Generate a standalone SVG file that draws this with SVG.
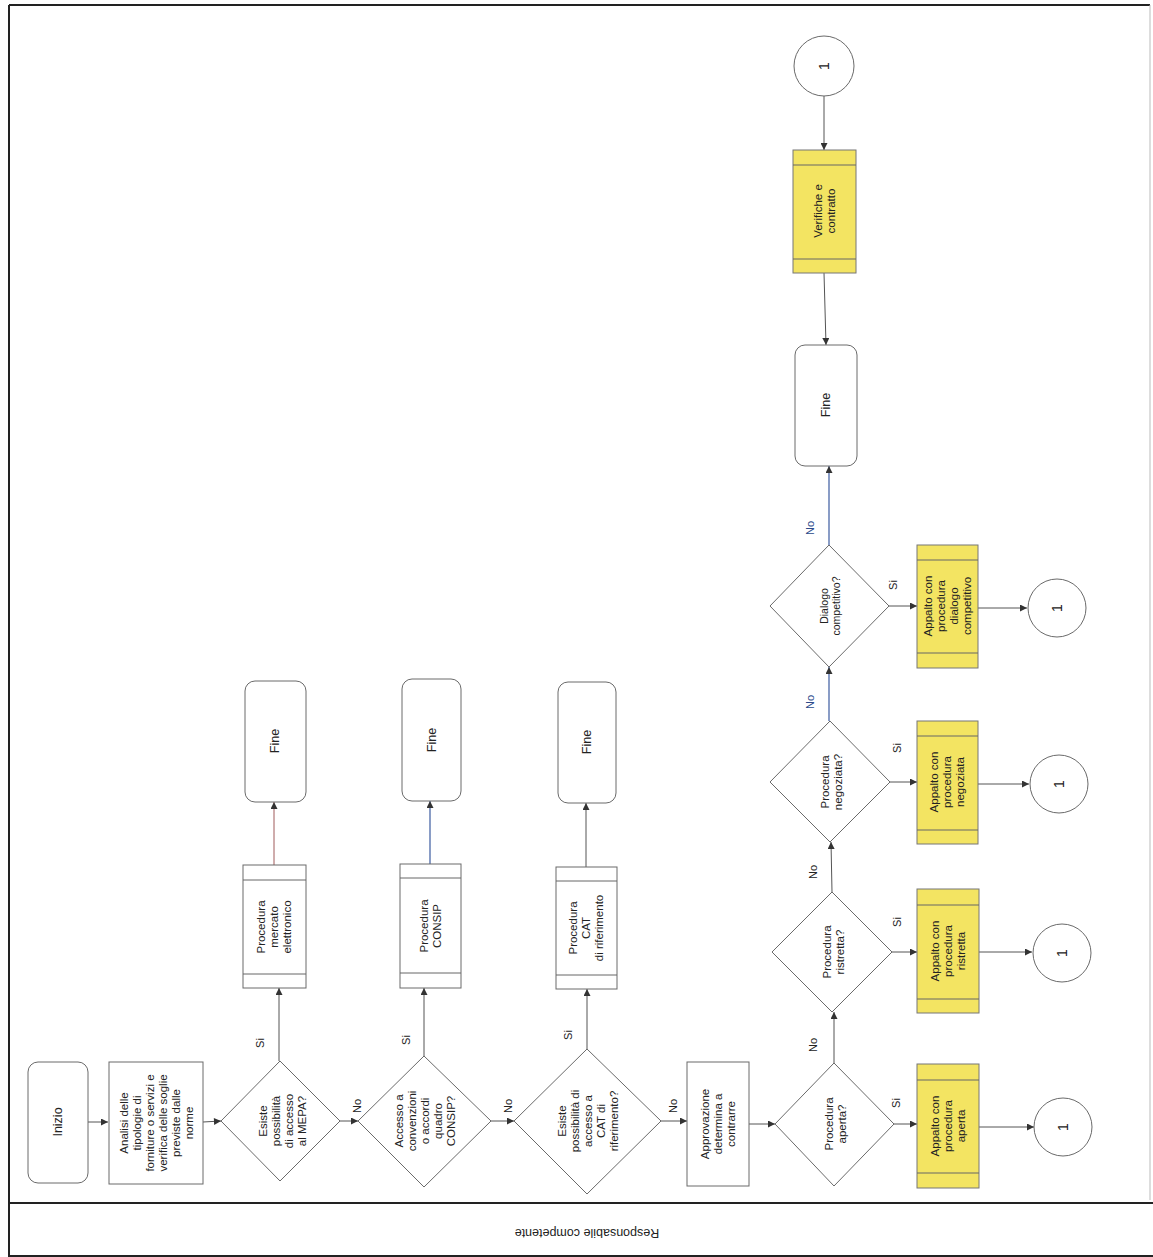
<svg xmlns="http://www.w3.org/2000/svg" width="1153" height="1257" viewBox="0 0 1153 1257">
<style>
.bx{fill:#fff;stroke:#6a6a6a;stroke-width:1}
.yl{fill:#f3e462;stroke:#777;stroke-width:1}
.il{stroke:#666;stroke-width:1;fill:none}
.t{font-family:"Liberation Sans",Arial,sans-serif;font-size:11.5px;fill:#222;text-anchor:middle}
.big{font-size:12.5px}
.num{font-size:14px}
.lb{font-family:"Liberation Sans",Arial,sans-serif;font-size:11px;fill:#222;text-anchor:middle}
.lbb{fill:#2b4a8a}
.c{stroke:#555;stroke-width:1;fill:none;marker-end:url(#ar)}
.cb{stroke:#3b5ba0;stroke-width:1.2;fill:none;marker-end:url(#ar)}
.cr{stroke:#a05a5a;stroke-width:1;fill:none;marker-end:url(#ar)}
</style>
<defs>
<marker id="ar" viewBox="0 0 10 10" refX="10" refY="5" markerWidth="9" markerHeight="7" markerUnits="userSpaceOnUse" orient="auto">
<path d="M0,0 L10,5 L0,10 z" fill="#333"/>
</marker>
</defs>
<rect x="0" y="0" width="1153" height="1257" fill="#fff"/>
<g id="frame">
<path d="M9,5 L1150,5" stroke="#222" stroke-width="2" fill="none"/>
<path d="M9,5 L9,1256 L1153,1256" stroke="#222" stroke-width="2" fill="none"/>
<path d="M1150,5 L1150,1200" stroke="#bbb" stroke-width="1" fill="none"/>
<path d="M9,1203 L1153,1203" stroke="#222" stroke-width="2" fill="none"/>
<text class="t big" transform="translate(587,1233) rotate(180)" dy="4">Responsabile competente</text>
</g>
<g id="connectors">
<path class="c" d="M88,1122 L108,1122"/>
<path class="c" d="M203,1122 L221,1121"/>
<path class="c" d="M340,1121 L358,1121"/>
<path class="c" d="M491,1121 L514,1121"/>
<path class="c" d="M661,1121 L687,1121"/>
<path class="c" d="M749,1124 L775,1124"/>
<path class="c" d="M894,1124 L917,1124"/>
<path class="c" d="M979,1127 L1034,1127"/>
<path class="c" d="M834,1063 L834,1012"/>
<path class="c" d="M892,952 L917,952"/>
<path class="c" d="M979,952 L1032,952"/>
<path class="c" d="M832,892 L831,842"/>
<path class="c" d="M890,782 L917,782"/>
<path class="c" d="M978,784 L1029,784"/>
<path class="cb" d="M829,721 L829,667"/>
<path class="c" d="M889,606 L917,606"/>
<path class="c" d="M978,608 L1027,608"/>
<path class="cb" d="M829,545 L829,466"/>
<path class="c" d="M824,96 L824,150"/>
<path class="c" d="M824,273 L826,345"/>
<path class="c" d="M279,1061 L279,988"/>
<path class="cr" d="M274,865 L274,802"/>
<path class="c" d="M424,1056 L424,988"/>
<path class="cb" d="M430,864 L430,801"/>
<path class="c" d="M587,1049 L587,989"/>
<path class="c" d="M586,867 L586,803"/>
<text class="lb" transform="translate(260,1043) rotate(-90)" dy="4">Si</text>
<text class="lb" transform="translate(406,1040) rotate(-90)" dy="4">Si</text>
<text class="lb" transform="translate(568,1035) rotate(-90)" dy="4">Si</text>
<text class="lb" transform="translate(357,1106) rotate(-90)" dy="4">No</text>
<text class="lb" transform="translate(508,1106) rotate(-90)" dy="4">No</text>
<text class="lb" transform="translate(673,1106) rotate(-90)" dy="4">No</text>
<text class="lb" transform="translate(896,1103) rotate(-90)" dy="4">Si</text>
<text class="lb" transform="translate(813,1045) rotate(-90)" dy="4">No</text>
<text class="lb" transform="translate(897,922) rotate(-90)" dy="4">Si</text>
<text class="lb" transform="translate(813,872) rotate(-90)" dy="4">No</text>
<text class="lb" transform="translate(897,748) rotate(-90)" dy="4">Si</text>
<text class="lb lbb" transform="translate(810,702) rotate(-90)" dy="4">No</text>
<text class="lb" transform="translate(893,585) rotate(-90)" dy="4">Si</text>
<text class="lb lbb" transform="translate(810,528) rotate(-90)" dy="4">No</text>
</g>
<g id="inizio">
<rect class="bx" x="28" y="1062" width="60" height="121" rx="10"/>
<text class="t big" transform="translate(58,1122) rotate(-90)" dy="4">Inizio</text>
</g>
<g id="analisi">
<rect class="bx" x="109" y="1062" width="94" height="122"/>
<text class="t" transform="translate(156,1123) rotate(-90)"><tspan x="0" dy="-28.5">Analisi delle</tspan><tspan x="0" dy="13">tipologie di</tspan><tspan x="0" dy="13">forniture o servizi e</tspan><tspan x="0" dy="13">verifica delle soglie</tspan><tspan x="0" dy="13">previste dalle</tspan><tspan x="0" dy="13">norme</tspan></text>
</g>
<g id="dec-mepa">
<polygon class="bx" points="280,1061 340,1121 280,1181 221,1121"/>
<text class="t" transform="translate(282,1121) rotate(-90)"><tspan x="0" dy="-15.5">Esiste</tspan><tspan x="0" dy="13">possibilità</tspan><tspan x="0" dy="13">di accesso</tspan><tspan x="0" dy="13">al MEPA?</tspan></text>
</g>
<g id="dec-consip">
<polygon class="bx" points="424,1056 491,1121 424,1187 358,1121"/>
<text class="t" transform="translate(425,1121) rotate(-90)"><tspan x="0" dy="-22">Accesso a</tspan><tspan x="0" dy="13">convenzioni</tspan><tspan x="0" dy="13">o accordi</tspan><tspan x="0" dy="13">quadro</tspan><tspan x="0" dy="13">CONSIP?</tspan></text>
</g>
<g id="dec-cat">
<polygon class="bx" points="587,1049 661,1121 587,1194 514,1121"/>
<text class="t" transform="translate(588,1121) rotate(-90)"><tspan x="0" dy="-22">Esiste</tspan><tspan x="0" dy="13">possibilità di</tspan><tspan x="0" dy="13">accesso a</tspan><tspan x="0" dy="13">CAT di</tspan><tspan x="0" dy="13">riferimento?</tspan></text>
</g>
<g id="approvazione">
<rect class="bx" x="687" y="1062" width="62" height="124"/>
<text class="t" transform="translate(718,1124) rotate(-90)"><tspan x="0" dy="-9">Approvazione</tspan><tspan x="0" dy="13">determina a</tspan><tspan x="0" dy="13">contrarre</tspan></text>
</g>
<g id="dec-aperta">
<polygon class="bx" points="834,1063 894,1124 834,1186 775,1124"/>
<text class="t" transform="translate(835,1124) rotate(-90)"><tspan x="0" dy="-2.5">Procedura</tspan><tspan x="0" dy="13">aperta?</tspan></text>
</g>
<g id="appalto-aperta">
<rect class="yl" x="917" y="1064" width="62" height="124"/>
<path class="il" d="M917,1080 L979,1080 M917,1173 L979,1173"/>
<text class="t" transform="translate(948,1126) rotate(-90)"><tspan x="0" dy="-9">Appalto con</tspan><tspan x="0" dy="13">procedura</tspan><tspan x="0" dy="13">aperta</tspan></text>
</g>
<g id="conn-aperta">
<circle class="bx" cx="1063" cy="1127" r="29"/>
<text class="t num" transform="translate(1063,1127) rotate(-90)" dy="5">1</text>
</g>
<g id="dec-ristretta">
<polygon class="bx" points="832,892 892,952 832,1012 772,952"/>
<text class="t" transform="translate(833,952) rotate(-90)"><tspan x="0" dy="-2.5">Procedura</tspan><tspan x="0" dy="13">ristretta?</tspan></text>
</g>
<g id="appalto-ristretta">
<rect class="yl" x="917" y="889" width="62" height="124"/>
<path class="il" d="M917,905 L979,905 M917,999 L979,999"/>
<text class="t" transform="translate(948,951) rotate(-90)"><tspan x="0" dy="-9">Appalto con</tspan><tspan x="0" dy="13">procedura</tspan><tspan x="0" dy="13">ristretta</tspan></text>
</g>
<g id="conn-ristretta">
<circle class="bx" cx="1062" cy="953" r="29"/>
<text class="t num" transform="translate(1062,953) rotate(-90)" dy="5">1</text>
</g>
<g id="dec-negoziata">
<polygon class="bx" points="830,721 890,782 830,842 770,782"/>
<text class="t" transform="translate(831,782) rotate(-90)"><tspan x="0" dy="-2.5">Procedura</tspan><tspan x="0" dy="13">negoziata?</tspan></text>
</g>
<g id="appalto-negoziata">
<rect class="yl" x="917" y="721" width="61" height="123"/>
<path class="il" d="M917,736 L978,736 M917,830 L978,830"/>
<text class="t" transform="translate(947,782) rotate(-90)"><tspan x="0" dy="-9">Appalto con</tspan><tspan x="0" dy="13">procedura</tspan><tspan x="0" dy="13">negoziata</tspan></text>
</g>
<g id="conn-negoziata">
<circle class="bx" cx="1059" cy="784" r="29"/>
<text class="t num" transform="translate(1059,784) rotate(-90)" dy="5">1</text>
</g>
<g id="dec-dialogo">
<polygon class="bx" points="829,545 889,606 829,667 770,606"/>
<text class="t" style="font-size:10.5px" transform="translate(830,606) rotate(-90)"><tspan x="0" dy="-2.5">Dialogo</tspan><tspan x="0" dy="12">competitivo?</tspan></text>
</g>
<g id="appalto-dialogo">
<rect class="yl" x="917" y="545" width="61" height="123"/>
<path class="il" d="M917,560 L978,560 M917,653 L978,653"/>
<text class="t" transform="translate(947,606) rotate(-90)"><tspan x="0" dy="-15.5">Appalto con</tspan><tspan x="0" dy="13">procedura</tspan><tspan x="0" dy="13">dialogo</tspan><tspan x="0" dy="13">competitivo</tspan></text>
</g>
<g id="conn-dialogo">
<circle class="bx" cx="1057" cy="608" r="29"/>
<text class="t num" transform="translate(1057,608) rotate(-90)" dy="5">1</text>
</g>
<g id="fine-main">
<rect class="bx" x="795" y="345" width="62" height="121" rx="10"/>
<text class="t big" transform="translate(826,405) rotate(-90)" dy="4">Fine</text>
</g>
<g id="conn-top">
<circle class="bx" cx="824" cy="66" r="30"/>
<text class="t num" transform="translate(824,66) rotate(-90)" dy="5">1</text>
</g>
<g id="verifiche">
<rect class="yl" x="793" y="150" width="63" height="123"/>
<path class="il" d="M793,165 L856,165 M793,259 L856,259"/>
<text class="t" transform="translate(824,211) rotate(-90)"><tspan x="0" dy="-2.5">Verifiche e</tspan><tspan x="0" dy="13">contratto</tspan></text>
</g>
<g id="proc-mepa">
<rect class="bx" x="243" y="865" width="63" height="123"/>
<path class="il" d="M243,880 L306,880 M243,974 L306,974"/>
<text class="t" transform="translate(274,927) rotate(-90)"><tspan x="0" dy="-9">Procedura</tspan><tspan x="0" dy="13">mercato</tspan><tspan x="0" dy="13">elettronico</tspan></text>
</g>
<g id="fine-mepa">
<rect class="bx" x="245" y="681" width="61" height="121" rx="10"/>
<text class="t big" transform="translate(275,741) rotate(-90)" dy="4">Fine</text>
</g>
<g id="proc-consip">
<rect class="bx" x="400" y="864" width="61" height="124"/>
<path class="il" d="M400,878 L461,878 M400,973 L461,973"/>
<text class="t" transform="translate(430,926) rotate(-90)"><tspan x="0" dy="-2.5">Procedura</tspan><tspan x="0" dy="13">CONSIP</tspan></text>
</g>
<g id="fine-consip">
<rect class="bx" x="402" y="679" width="59" height="122" rx="10"/>
<text class="t big" transform="translate(432,740) rotate(-90)" dy="4">Fine</text>
</g>
<g id="proc-cat">
<rect class="bx" x="556" y="867" width="61" height="122"/>
<path class="il" d="M556,881 L617,881 M556,975 L617,975"/>
<text class="t" transform="translate(586,928) rotate(-90)"><tspan x="0" dy="-9">Procedura</tspan><tspan x="0" dy="13">CAT</tspan><tspan x="0" dy="13">di riferimento</tspan></text>
</g>
<g id="fine-cat">
<rect class="bx" x="558" y="682" width="58" height="121" rx="10"/>
<text class="t big" transform="translate(587,742) rotate(-90)" dy="4">Fine</text>
</g>
</svg>
